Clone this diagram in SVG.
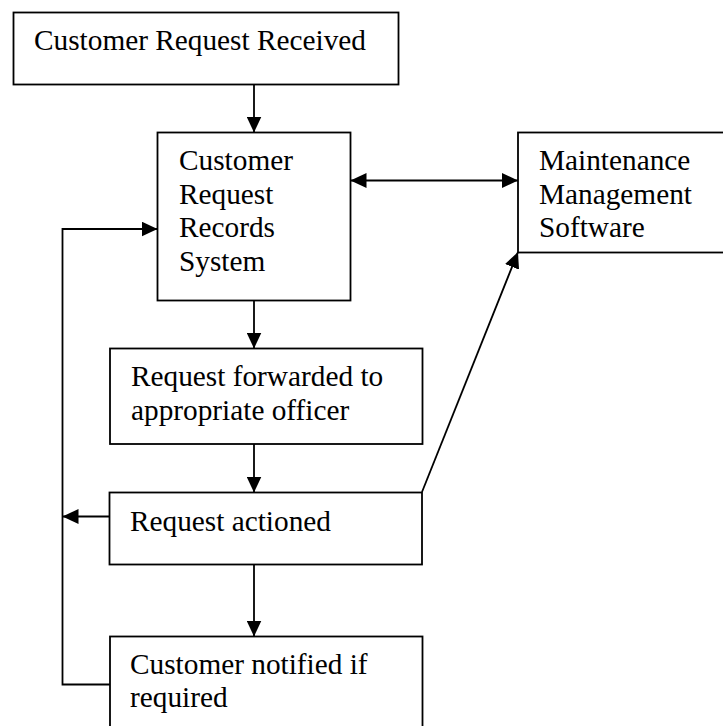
<svg xmlns="http://www.w3.org/2000/svg" width="723" height="726" viewBox="0 0 723 726">
<style>
.box{fill:#fff;stroke:#000;stroke-width:1.8}
.lbl{font-family:"Liberation Serif","Times New Roman",serif;font-size:29.3px;fill:#000}
.con{fill:none;stroke:#000;stroke-width:1.8}
</style>
<defs>
<marker id="ah" markerUnits="userSpaceOnUse" markerWidth="16" markerHeight="15" refX="16" refY="7.5" orient="auto-start-reverse" viewBox="0 0 16 15">
<path d="M0,0 L16,7.5 L0,15 Z" fill="#000"/>
</marker>
</defs>
<rect width="723" height="726" fill="#fff"/>
<g id="connectors">
<line class="con" x1="254" y1="84" x2="254" y2="132.5" marker-end="url(#ah)"/>
<line class="con" x1="350.5" y1="180.5" x2="518" y2="180.5" marker-start="url(#ah)" marker-end="url(#ah)"/>
<line class="con" x1="254" y1="300.5" x2="254" y2="348.5" marker-end="url(#ah)"/>
<line class="con" x1="254" y1="444" x2="254" y2="492.5" marker-end="url(#ah)"/>
<line class="con" x1="254" y1="564.5" x2="254" y2="636.5" marker-end="url(#ah)"/>
<line class="con" x1="109.5" y1="516.5" x2="62.5" y2="516.5" marker-end="url(#ah)"/>
<polyline class="con" points="110,684.5 62.5,684.5 62.5,229 157.5,229" marker-end="url(#ah)"/>
<line class="con" x1="422" y1="492" x2="518" y2="252" marker-end="url(#ah)"/>
</g>
<g id="customer-request-received">
<rect class="box" x="13.5" y="12.5" width="385" height="72"/>
<text class="lbl" x="34" y="50">Customer Request Received</text>
</g>
<g id="customer-request-records-system">
<rect class="box" x="157.5" y="132.5" width="193" height="168"/>
<text class="lbl" x="179" y="170">Customer</text>
<text class="lbl" x="179" y="203.5">Request</text>
<text class="lbl" x="179" y="237">Records</text>
<text class="lbl" x="179" y="270.5">System</text>
</g>
<g id="maintenance-management-software">
<rect class="box" x="518" y="132.5" width="215" height="120"/>
<text class="lbl" x="539" y="170">Maintenance</text>
<text class="lbl" x="539" y="203.5">Management</text>
<text class="lbl" x="539" y="237">Software</text>
</g>
<g id="request-forwarded">
<rect class="box" x="110" y="348.5" width="312.5" height="95.5"/>
<text class="lbl" x="131" y="386">Request forwarded to</text>
<text class="lbl" x="131" y="419.5">appropriate officer</text>
</g>
<g id="request-actioned">
<rect class="box" x="109.5" y="492.5" width="312.5" height="72"/>
<text class="lbl" x="130" y="530.5">Request actioned</text>
</g>
<g id="customer-notified">
<rect class="box" x="110" y="636.5" width="312.5" height="100"/>
<text class="lbl" x="130" y="673.5">Customer notified if</text>
<text class="lbl" x="130" y="707">required</text>
</g>
</svg>
